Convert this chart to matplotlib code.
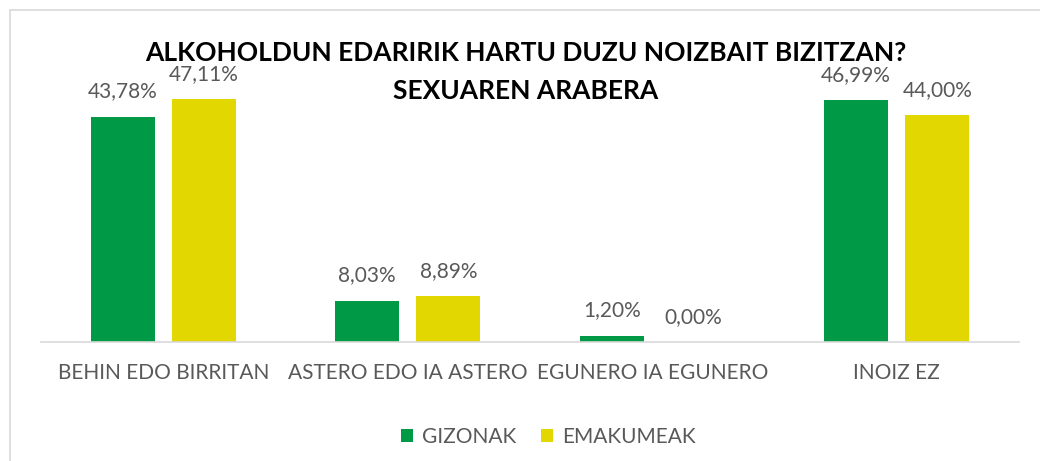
import matplotlib.pyplot as plt
import matplotlib.patches as patches
import numpy as np

categories = ["BEHIN EDO BIRRITAN", "ASTERO EDO IA ASTERO", "EGUNERO IA EGUNERO", "INOIZ EZ"]
gizonak = [43.78, 8.03, 1.20, 46.99]
emakumeak = [47.11, 8.89, 0.00, 44.00]
series_names = ["GIZONAK", "EMAKUMEAK"]
title_lines = ["ALKOHOLDUN EDARIRIK HARTU DUZU NOIZBAIT BIZITZAN?", "SEXUAREN ARABERA"]

green = '#009A46'
yellow = '#E2D700'
label_gray = '#595959'

fig = plt.figure(figsize=(10.4, 4.61), dpi=100)
W, H = 1040, 461

# light grey chart border (cropped at right and bottom)
fig.patches.append(patches.Rectangle((10 / W, -0.1), 1.2, (H - 10) / H + 0.1,
                                     transform=fig.transFigure, fill=False,
                                     edgecolor='#D9D9D9', linewidth=1.2))

ax = fig.add_axes([41 / W, (H - 342) / H, 978 / W, 257.5 / H])
x = np.arange(len(categories))
bw = 0.262
off = 0.166
b1 = ax.bar(x - off, gizonak, bw, color=green, label=series_names[0])
b2 = ax.bar(x + off, emakumeak, bw, color=yellow, label=series_names[1])

for bars, vals in ((b1, gizonak), (b2, emakumeak)):
    for r, v in zip(bars, vals):
        ax.annotate(f"{v:.2f}%".replace('.', ','),
                    (r.get_x() + r.get_width() / 2, v),
                    xytext=(0, 11), textcoords='offset points',
                    ha='center', va='bottom', fontsize=15,
                    color=label_gray, family='Lato')

ax.set_xlim(-0.5, 3.5)
ax.set_ylim(0, 50)
ax.set_yticks([])
ax.set_xticks(x)
ax.set_xticklabels(categories, fontsize=15, color=label_gray, family='Lato')
ax.tick_params(axis='x', length=0, pad=15)
for s in ['top', 'left', 'right']:
    ax.spines[s].set_visible(False)
ax.spines['bottom'].set_color('#D9D9D9')
ax.spines['bottom'].set_linewidth(1.2)

# title as two separate lines (baselines)
for line, base_y in zip(title_lines, (61, 99)):
    fig.text(526 / W, 1 - base_y / H, line, ha='center', va='baseline',
             fontsize=19, fontweight='bold', family='Lato')

fig.legend(handles=[b1, b2], labels=series_names, loc='center',
           bbox_to_anchor=(548 / W, 1 - 437 / H), ncol=2, frameon=False,
           prop={'family': 'Lato', 'size': 15}, labelcolor=label_gray,
           handlelength=0.6, handleheight=0.6, handletextpad=0.4,
           columnspacing=1.2)

fig.savefig('out.png', dpi=100)
